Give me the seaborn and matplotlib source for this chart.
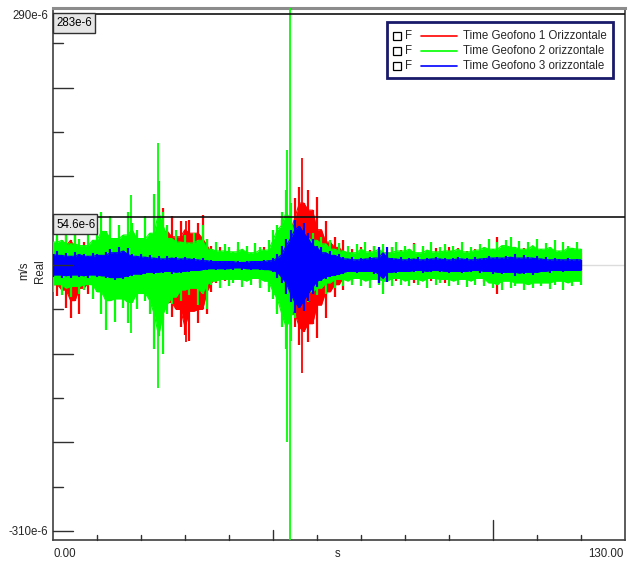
import numpy as np
import pandas as pd
import matplotlib
matplotlib.use("Agg")
import matplotlib.pyplot as plt
from matplotlib.patches import Rectangle
from matplotlib.lines import Line2D
import seaborn as sns

# ---------------------------------------------------------------------------
# Peak envelope of each geophone trace, one upper/lower pair per second
# (values in micrometres per second, t = 0 ... 120 s)
# ---------------------------------------------------------------------------
seconds = list(range(0, 121))

geo1_hi = [18, 30, 22, 36, 28, 34, 20, 26, 18, 24, 16,
           26, 20, 30, 18, 24, 16, 28, 20, 14, 24,
           20, 30, 26, 45, 64, 38, 55, 32, 50, 40,
           51, 36, 48, 56, 30, 22, 14, 20, 12, 16,
           12, 18, 14, 16, 11, 17, 13, 20, 16, 26,
           34, 51, 38, 54, 76, 88, 70, 85, 62, 77,
           40, 50, 26, 32, 20, 28, 14, 18, 12, 20,
           13, 17, 22, 12, 18, 14, 20, 12, 17, 14,
           16, 25, 12, 18, 14, 12, 19, 13, 17, 20,
           15, 19, 12, 16, 13, 18, 12, 17, 14, 18,
           32, 14, 18, 12, 16, 13, 19, 12, 16, 14,
           17, 12, 15, 18, 11, 16, 13, 17, 12, 14]
geo1_lo = [-22, -35, -28, -48, -60, -40, -55, -26, -32, -20, -28,
           -24, -34, -22, -38, -26, -30, -42, -24, -30, -20,
           -28, -36, -30, -50, -62, -42, -58, -50, -70, -79,
           -85, -52, -65, -50, -55, -30, -20, -14, -18, -12,
           -16, -12, -18, -14, -17, -12, -20, -16, -24, -20,
           -50, -40, -70, -55, -70, -90, -75, -87, -66, -82,
           -45, -60, -30, -36, -22, -28, -14, -19, -12, -17,
           -14, -18, -13, -20, -15, -17, -12, -18, -14, -12,
           -17, -20, -13, -16, -12, -18, -14, -12, -20, -16,
           -18, -12, -16, -14, -18, -12, -15, -19, -13, -17,
           -32, -14, -17, -12, -18, -13, -16, -12, -18, -14,
           -13, -17, -12, -16, -14, -18, -12, -15, -13, -12]
# isolated needle peaks: time (s), positive peak, negative peak
geo1_peak_t = [56.6, 30.2]
geo1_peak_hi = [121, 50]
geo1_peak_lo = [-122, -87]

geo2_hi = [26, 40, 28, 35, 24, 38, 30, 22, 36, 28, 42,
           60, 38, 55, 30, 45, 34, 60, 48, 40, 30,
           55, 36, 80, 95, 60, 45, 30, 40, 26, 34,
           25, 36, 28, 45, 30, 18, 26, 16, 24, 20,
           15, 26, 18, 22, 14, 25, 20, 17, 28, 40,
           45, 60, 85, 70, 50, 35, 42, 30, 36, 28,
           32, 24, 28, 18, 25, 16, 22, 14, 24, 18,
           26, 15, 22, 18, 24, 14, 20, 26, 16, 22,
           18, 24, 14, 22, 17, 26, 15, 20, 24, 16,
           22, 18, 26, 15, 21, 17, 24, 20, 30, 18,
           26, 22, 28, 32, 20, 27, 18, 26, 22, 29,
           18, 25, 20, 28, 16, 26, 22, 19, 26, 18]
geo2_lo = [-30, -22, -34, -26, -36, -24, -32, -28, -22, -38, -30,
           -55, -73, -40, -64, -38, -48, -65, -42, -50, -32,
           -40, -55, -95, -80, -100, -55, -44, -36, -40, -28,
           -34, -26, -45, -32, -49, -22, -18, -26, -16, -24,
           -20, -16, -25, -18, -22, -15, -26, -18, -30, -38,
           -55, -70, -95, -85, -60, -45, -38, -42, -30, -34,
           -26, -32, -20, -26, -16, -24, -18, -22, -15, -24,
           -18, -26, -16, -22, -32, -18, -24, -15, -22, -18,
           -24, -16, -22, -18, -26, -15, -22, -20, -16, -24,
           -18, -22, -16, -25, -18, -22, -15, -24, -20, -26,
           -22, -28, -18, -26, -24, -20, -28, -22, -26, -20,
           -24, -20, -27, -22, -18, -28, -20, -24, -18, -22]
geo2_peak_t = [17.7, 23.9, 53.2, 53.9]
geo2_peak_hi = [79, 138, 130, 300]
geo2_peak_lo = [-76, -139, -200, -320]

geo3_hi = [12, 16, 11, 14, 10, 15, 12, 13, 10, 14, 12,
           11, 15, 18, 14, 20, 16, 19, 12, 10, 12,
           9, 11, 8, 10, 7, 10, 8, 9, 7, 9,
           7, 8, 6, 8, 5, 6, 4, 5, 4, 5,
           4, 5, 3, 5, 4, 5, 4, 6, 5, 8,
           12, 22, 30, 40, 51, 44, 48, 36, 30, 22,
           20, 14, 16, 11, 13, 9, 7, 9, 6, 8,
           7, 9, 8, 20, 14, 20, 8, 7, 9, 6,
           8, 7, 9, 6, 8, 7, 9, 7, 8, 6,
           8, 9, 7, 8, 6, 9, 7, 8, 10, 8,
           9, 8, 10, 9, 12, 8, 11, 9, 8, 10,
           7, 9, 6, 8, 7, 6, 8, 6, 7, 6]
geo3_lo = [-13, -11, -15, -12, -14, -11, -13, -12, -14, -11, -13,
           -12, -14, -15, -17, -14, -16, -13, -12, -10, -11,
           -10, -8, -10, -8, -9, -7, -10, -8, -9, -7,
           -8, -6, -7, -6, -5, -4, -5, -4, -5, -4,
           -5, -3, -5, -4, -5, -4, -5, -5, -6, -8,
           -14, -20, -32, -42, -54, -48, -52, -40, -32, -25,
           -18, -16, -13, -12, -11, -10, -8, -7, -9, -7,
           -8, -7, -10, -20, -15, -19, -8, -9, -7, -8,
           -7, -8, -6, -9, -7, -8, -6, -8, -7, -9,
           -7, -8, -9, -7, -8, -6, -9, -8, -7, -10,
           -8, -10, -9, -8, -12, -9, -10, -8, -11, -9,
           -8, -7, -9, -6, -7, -8, -6, -7, -6, -6]
geo3_peak_t = []
geo3_peak_hi = []
geo3_peak_lo = []

series_names = ["Time Geofono 1 Orizzontale",
                "Time Geofono 2 orizzontale",
                "Time Geofono 3 orizzontale"]
series_colors = ["#ff0000", "#00ff00", "#0000ff"]
cursor_values = [283e-6, 54.6e-6]
cursor_labels = ["283e-6", "54.6e-6"]
x_range = (0.0, 130.0)
y_range = (-310e-6, 290e-6)

envelopes = [(geo1_hi, geo1_lo), (geo2_hi, geo2_lo), (geo3_hi, geo3_lo)]
peaks = [(geo1_peak_t, geo1_peak_hi, geo1_peak_lo),
         (geo2_peak_t, geo2_peak_hi, geo2_peak_lo),
         (geo3_peak_t, geo3_peak_hi, geo3_peak_lo)]

# long-form table: the per-second peaks plus the steady core of each trace
# (the smallest neighbouring peak, which the signal fills almost solidly)
rows = []
for name, (hi, lo) in zip(series_names, envelopes):
    hi_s = pd.Series(hi, dtype=float)
    lo_s = pd.Series(lo, dtype=float)
    core_hi = hi_s.rolling(3, center=True, min_periods=1).min()
    core_lo = lo_s.rolling(3, center=True, min_periods=1).max()
    for t, a, b, ca, cb in zip(seconds, hi, lo, core_hi, core_lo):
        rows.append((name, t, a * 1e-6, b * 1e-6, ca * 1e-6, cb * 1e-6))
df = pd.DataFrame(rows, columns=["trace", "time", "peak_hi", "peak_lo",
                                 "core_hi", "core_lo"])

sns.set_style("white")
plt.rcParams["font.family"] = ["Liberation Sans", "DejaVu Sans"]

W, H = 629, 564
fig = plt.figure(figsize=(W / 100, H / 100), dpi=100)
ax_l, ax_r, ax_t, ax_b = 53, 625, 8, 540
ax = fig.add_axes([ax_l / W, 1 - ax_b / H, (ax_r - ax_l) / W, (ax_b - ax_t) / H])


def fx(x):
    return x / W


def fy(y):
    return 1 - y / H


ax.axhline(0, color="#dcdcdc", lw=1, zorder=0)

for k, (name, col) in enumerate(zip(series_names, series_colors)):
    sub = df[df.trace == name]
    z = 2 + k
    ax.fill_between(sub.time.values, sub.core_lo.values, sub.core_hi.values,
                    color=col, lw=0, zorder=z)
    sns.lineplot(data=sub, x="time", y="core_hi", estimator=None,
                 color=col, lw=0.8, ax=ax, zorder=z)
    sns.lineplot(data=sub, x="time", y="core_lo", estimator=None,
                 color=col, lw=0.8, ax=ax, zorder=z)
    # every second's oscillation reaches its own peaks
    ax.vlines(sub.time.values, sub.peak_lo.values, sub.peak_hi.values,
              color=col, lw=1.6, zorder=z)
    pt, ph, pl = peaks[k]
    if pt:
        ax.vlines(pt, np.array(pl) * 1e-6, np.array(ph) * 1e-6,
                  color=col, lw=1.3, zorder=z)

ax.set_xlim(*x_range)
ax.set_ylim(*y_range)
ax.set_xticks([])
ax.set_yticks([])
ax.set_xlabel("")
ax.set_ylabel("")

for side in ["left", "bottom", "right"]:
    ax.spines[side].set_color("#404040")
    ax.spines[side].set_linewidth(1.2)
ax.spines["top"].set_color("#8c8c8c")
ax.spines["top"].set_linewidth(2.2)

# inward ticks on the value axis
ytr = ax.get_yaxis_transform()
ax_w = ax_r - ax_l
for v in range(-300, 300, 50):
    length = 20 if v % 100 == 0 else 10
    ax.plot([0, length / ax_w], [v * 1e-6] * 2, transform=ytr,
            color="#303030", lw=1, clip_on=False, zorder=6)

# inward ticks on the time axis
xtr = ax.get_xaxis_transform()
ax_h = ax_b - ax_t
for t in range(10, 130, 10):
    length = 20 if t == 100 else (10 if t == 50 else 5)
    ax.plot([t, t], [0, length / ax_h], transform=xtr,
            color="#303030", lw=1, clip_on=False, zorder=6)

# cursor lines
for cv in cursor_values:
    ax.axhline(cv, color="#101010", lw=1.2, zorder=7)

fs = 8.3
for lab, top, right in [(cursor_labels[0], 13, 95), (cursor_labels[1], 214, 97)]:
    fig.add_artist(Rectangle((fx(53), fy(top + 20)), (right - 53) / W, 20 / H,
                             transform=fig.transFigure, fc="#e6e6e6",
                             ec="#303030", lw=1, zorder=8))
    fig.text(fx(56), fy(top + 10.5), lab, ha="left", va="center",
             fontsize=fs, color="black", zorder=9)

# axis end labels
fig.text(fx(48), fy(16), "290e-6", ha="right", va="center", fontsize=fs)
fig.text(fx(48), fy(532), "-310e-6", ha="right", va="center", fontsize=fs)
fig.text(fx(53), fy(554), "0.00", ha="left", va="center", fontsize=fs)
fig.text(fx(624), fy(554), "130.00", ha="right", va="center", fontsize=fs)
fig.text(fx(338), fy(554), "s", ha="center", va="center", fontsize=fs)
fig.text(fx(24), fy(271), "m/s", ha="center", va="center", rotation=90, fontsize=fs)
fig.text(fx(40), fy(271), "Real", ha="center", va="center", rotation=90, fontsize=fs)

# legend panel
fig.add_artist(Rectangle((fx(387), fy(78)), (613 - 387) / W, (78 - 22) / H,
                         transform=fig.transFigure, fc="white",
                         ec="#1a1a6a", lw=2, zorder=10))
for i, (name, col) in enumerate(zip(series_names, series_colors)):
    yc = 36 + 15 * i
    fig.add_artist(Rectangle((fx(393), fy(yc + 4)), 8 / W, 8 / H,
                             transform=fig.transFigure, fc="white",
                             ec="black", lw=0.9, zorder=11))
    fig.text(fx(405), fy(yc), "F", ha="left", va="center", fontsize=fs, zorder=11)
    fig.add_artist(Line2D([fx(421), fx(457)], [fy(yc), fy(yc)],
                          transform=fig.transFigure, color=col, lw=1.2, zorder=11))
    fig.text(fx(463), fy(yc), name, ha="left", va="center", fontsize=fs, zorder=11)

fig.savefig("out.png", dpi=100)
